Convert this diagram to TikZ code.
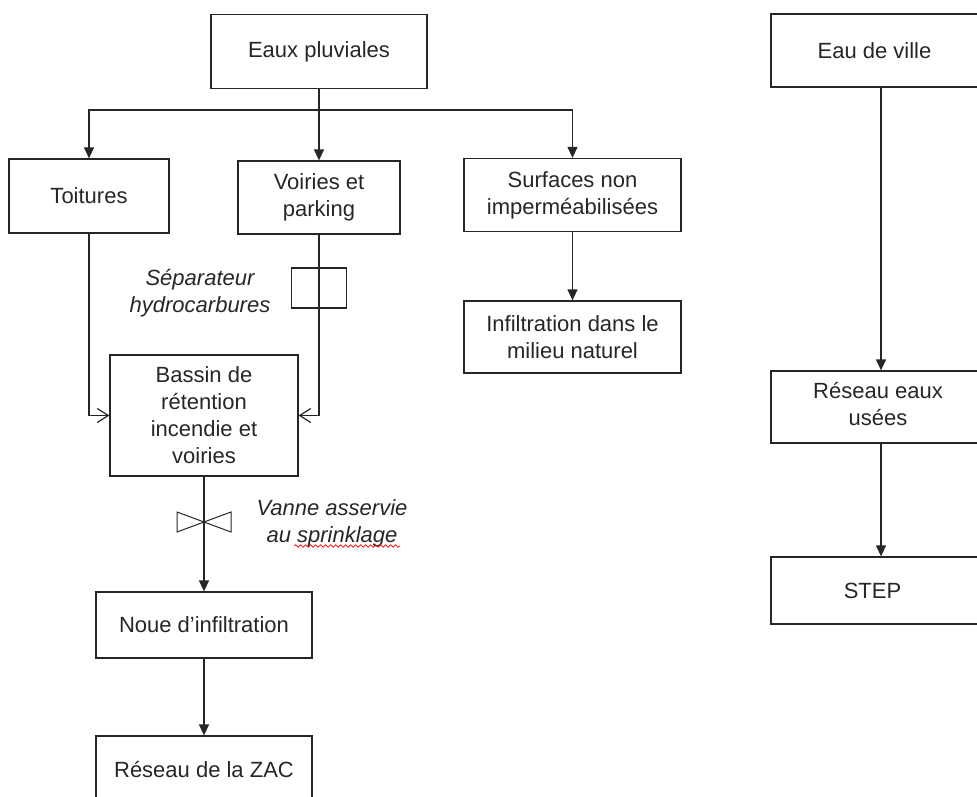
\documentclass[tikz,border=0pt]{standalone}
\usepackage{fontspec}
\setmainfont{Liberation Sans}
\usetikzlibrary{arrows.meta, positioning, decorations.pathmorphing}

\begin{document}
\begin{tikzpicture}[x=1pt, y=-1pt, line width=1.3pt, color=black!85,
    every node/.style={font=\fontsize{22pt}{27pt}\selectfont, align=center, inner sep=0pt},
    boite/.style={draw, minimum width=216pt, minimum height=74pt},
    fleche/.style={-{Triangle[length=11pt, width=10pt]}},
    crochet/.style={-{Straight Barb[length=11pt, width=14pt, line width=1.2pt]}},
    note/.style={font=\fontsize{22pt}{27pt}\selectfont\itshape},]

\clip (0,0) rectangle (977,796);

% eaux pluviales
\node[boite] (pluv) at (319,51.5) {Eaux pluviales};
\coordinate (split) at (319,110);
\node[boite, minimum width=160pt] (toit) at (89,196) {Toitures};
\node[boite, minimum width=162pt, minimum height=73pt] (voir) at (319,197.5) {Voiries et\\parking};
\node[boite, minimum width=217pt, minimum height=73pt] (surf) at (572.5,195) {Surfaces non\\imperméabilisées};
\node[boite, minimum width=217pt, minimum height=72pt] (infil) at (572.5,337) {Infiltration dans le\\milieu naturel};
\node[draw, minimum width=55pt, minimum height=40pt] (sep) at (319,288) {};
\node[note] (sepl) at (200,293) {Séparateur\\hydrocarbures};
\node[boite, minimum width=188pt, minimum height=121pt] (bassin) at (204,415.5) {Bassin de\\rétention\\incendie et\\voiries};
\coordinate (vanne) at (204,522);
\node[note] (vanl) at (332,523) {Vanne asservie\\au sprinklage};
\node[boite, minimum height=66pt] (noue) at (204,625) {Noue d’infiltration};
\node[boite, minimum height=74pt] (zac) at (204,773) {\raisebox{7pt}{Réseau de la ZAC}};

% eau de ville
\node[boite, minimum width=220pt, minimum height=73pt] (ville) at (881,50.5) {\hspace*{-13pt}Eau de ville};
\node[boite, minimum width=220pt, minimum height=72pt] (usees) at (881,407) {\hspace*{-6pt}\begin{tabular}{@{}c@{}}Réseau eaux\\usées\end{tabular}};
\node[boite, minimum width=220pt, minimum height=67pt] (step) at (881,590.5) {\hspace*{-17pt}STEP};

\draw (pluv.south) -- (split);
\draw[fleche] (split) -| (toit.north);
\draw[fleche] (split) -- (voir.north);
\draw[fleche] (split) -| (surf.north);
\draw[fleche] (surf.south) -- (infil.north);
\draw[crochet] (toit.south) |- (bassin.west);
\draw[crochet] (voir.south) |- (bassin.east);
\draw[fleche] (bassin.south) -- (noue.north);
\draw[fleche] (noue.south) -- (zac.north);
\draw[fleche] (ville.south) -- (usees.north);
\draw[fleche] (usees.south) -- (step.north);

% vanne
\draw[line width=1pt] ([xshift=-27pt, yshift=-10pt]vanne) -- (vanne) -- ([xshift=-27pt, yshift=10pt]vanne) -- cycle;
\draw[line width=1pt] ([xshift=27pt, yshift=-10pt]vanne) -- (vanne) -- ([xshift=27pt, yshift=10pt]vanne) -- cycle;
\draw[red, line width=0.7pt, decorate, decoration={snake, amplitude=1.3pt, segment length=5pt}] (294,546) -- (400,546);
\end{tikzpicture}
\end{document}
